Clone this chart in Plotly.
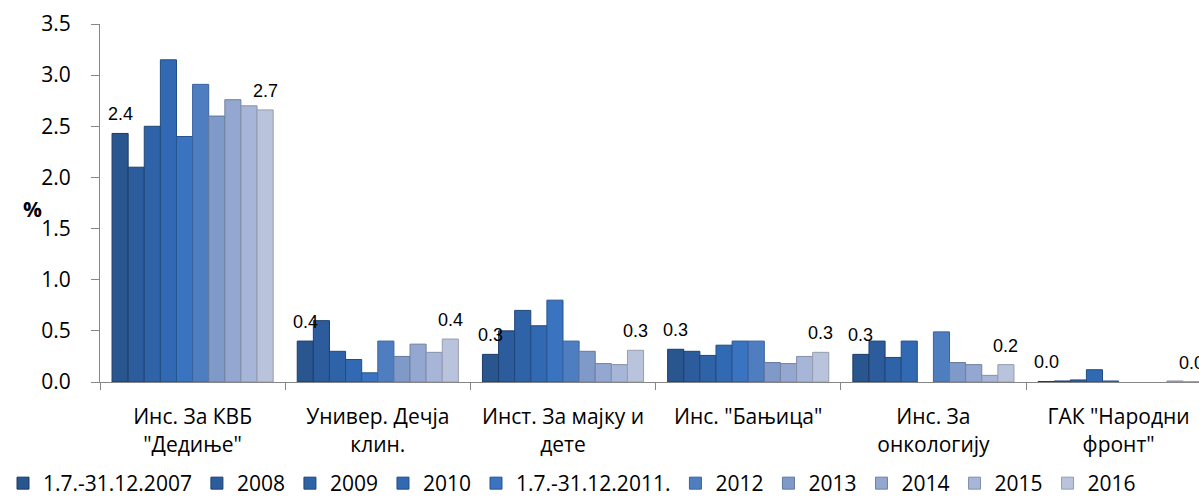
import plotly.graph_objects as go

categories = ["Инс. За КВБ<br>\"Дедиње\"", "Универ. Дечја<br>клин.", "Инст. За мајку и<br>дете",
              "Инс. \"Бањица\"", "Инс. За<br>онкологију", "ГАК \"Народни<br>фронт\""]
series_names = ["1.7.-31.12.2007", "2008", "2009", "2010", "1.7.-31.12.2011.",
                "2012", "2013", "2014", "2015", "2016"]

s2007h = [2.43, 0.40, 0.27, 0.32, 0.27, 0.005]
s2008 = [2.10, 0.60, 0.50, 0.30, 0.40, 0.01]
s2009 = [2.50, 0.30, 0.70, 0.26, 0.24, 0.02]
s2010 = [3.15, 0.22, 0.55, 0.36, 0.40, 0.12]
s2011h = [2.40, 0.09, 0.80, 0.40, None, 0.01]
s2012 = [2.91, 0.40, 0.40, 0.40, 0.49, None]
s2013 = [2.60, 0.25, 0.30, 0.19, 0.19, None]
s2014 = [2.76, 0.37, 0.18, 0.18, 0.17, None]
s2015 = [2.70, 0.29, 0.17, 0.25, 0.065, 0.01]
s2016 = [2.66, 0.42, 0.31, 0.29, 0.17, 0.003]

series_values = [s2007h, s2008, s2009, s2010, s2011h, s2012, s2013, s2014, s2015, s2016]
labelled_series = [0, 9]

colors = ["#2A5690", "#2C5C9C", "#2F63A8", "#3169B2", "#3A73C0",
          "#4E7EC0", "#7F99C9", "#93A7D1", "#A6B5D8", "#B9C3DC"]
edges = ["#1B3A66", "#1D3F6E", "#204679", "#224C82", "#28558F",
         "#3A62A0", "#62799F", "#72829F", "#8590A8", "#969DAE"]

fig = go.Figure()
for i, (name, vals) in enumerate(zip(series_names, series_values)):
    fig.add_trace(go.Bar(
        x=categories, y=vals, name=name,
        marker=dict(color=colors[i], line=dict(color=edges[i], width=1)),
    ))

bargap = 0.13
nser = len(series_values)
bw = (1 - bargap) / nser
for si in labelled_series:
    off = -(1 - bargap) / 2 + bw * (si + 0.5)
    for ci, v in enumerate(series_values[si]):
        if v is None:
            continue
        fig.add_annotation(
            x=ci + off, y=v, xref="x", yref="y", text=f"{v:.1f}",
            showarrow=False, xanchor="center", yanchor="bottom", yshift=7,
            font=dict(family="Liberation Sans, Arial, sans-serif", size=18, color="#000"),
        )

fig.add_annotation(x=(32 - 100) / 1099, y=(384 - 210) / 360, xref="paper", yref="paper",
                   xanchor="center", yanchor="middle",
                   text="<b>%</b>", showarrow=False, font=dict(size=21, color="#000"))

fig.update_layout(
    width=1199, height=504,
    margin=dict(l=100, r=0, t=24, b=120),
    plot_bgcolor="white", paper_bgcolor="white",
    barmode="group", bargap=bargap, bargroupgap=0,
    font=dict(family="Open Sans, Noto Sans, sans-serif", size=21, color="#000"),
    legend=dict(orientation="h", x=(3 - 100) / 1099, xanchor="left", y=-0.285, yanchor="middle",
                font=dict(size=21), itemwidth=30, tracegroupgap=0),
)
fig.update_xaxes(
    type="category", range=[-0.5, 5.434], tickson="boundaries",
    ticks="outside", ticklen=7, tickcolor="#868686",
    showline=True, linecolor="#868686", linewidth=1,
    showgrid=False, ticklabelstandoff=16, tickfont=dict(size=21),
)
fig.update_yaxes(
    range=[0, 3.5], dtick=0.5, tickformat=".1f",
    ticks="outside", ticklen=8, tickcolor="#868686",
    showline=True, linecolor="#868686", linewidth=1,
    showgrid=False, zeroline=False, ticklabelstandoff=16, tickfont=dict(size=21),
)

fig.write_html("out.html")
